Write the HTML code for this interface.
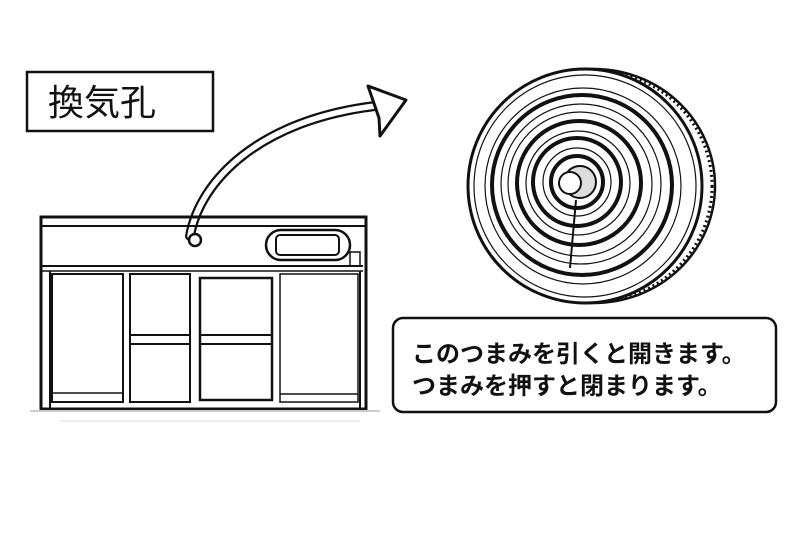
<!DOCTYPE html>
<html><head><meta charset="utf-8"><style>
body{margin:0;background:#fff;width:800px;height:533px;overflow:hidden}
text{font-family:"Liberation Sans","Noto Sans CJK JP",sans-serif;fill:#111}
</style></head><body>
<svg width="800" height="533" viewBox="0 0 800 533" xmlns="http://www.w3.org/2000/svg">
<rect x="27" y="72" width="186" height="59" fill="#fff" stroke="#111" stroke-width="2.5"/>
<text x="48" y="115" font-size="36">換気孔</text>
<path d="M190 236 C200 180 260 120 375 106" fill="none" stroke="#111" stroke-width="10" stroke-linecap="round"/>
<path d="M190 236 C200 180 260 120 375 106" fill="none" stroke="#fff" stroke-width="5.5" stroke-linecap="round"/>
<path d="M368 86 L406 100 L380 136 L379 118 Z" fill="#fff" stroke="#111" stroke-width="3" stroke-linejoin="round"/>
<g fill="none" stroke="#111">
<rect x="41" y="217" width="325" height="192" stroke-width="3"/>
<line x1="41" y1="226" x2="366" y2="226" stroke-width="2"/>
<line x1="41" y1="266" x2="363" y2="266" stroke-width="2"/>
<line x1="41" y1="271" x2="363" y2="271" stroke-width="1.5"/>
<line x1="50" y1="271" x2="50" y2="409" stroke-width="2"/>
<line x1="360" y1="271" x2="360" y2="409" stroke-width="2"/>
<circle cx="195" cy="240" r="6" stroke-width="2.5" fill="#fff"/>
<rect x="266" y="230" width="84" height="30" rx="15" stroke-width="2.5"/>
<rect x="276" y="235" width="63" height="20" rx="4" stroke-width="2"/>
<rect x="350" y="252" width="10" height="14" stroke-width="1.5"/>
<rect x="52" y="274" width="71" height="128" stroke-width="2"/>
<rect x="130" y="274" width="60" height="128" stroke-width="2"/>
<rect x="200" y="278" width="72" height="122" stroke-width="2.5"/>
<rect x="280" y="274" width="78" height="128" stroke-width="1.5"/>
<line x1="130" y1="335" x2="190" y2="335" stroke-width="2"/><line x1="130" y1="344" x2="190" y2="344" stroke-width="2"/>
<line x1="200" y1="335" x2="272" y2="335" stroke-width="2"/><line x1="200" y1="344" x2="272" y2="344" stroke-width="2"/>
<line x1="52" y1="393" x2="123" y2="393" stroke-width="1.5"/>
<line x1="280" y1="394" x2="358" y2="394" stroke-width="1.5"/>
</g>
<line x1="30" y1="411" x2="380" y2="411" stroke="#ccc" stroke-width="2"/>
<line x1="60" y1="421" x2="360" y2="421" stroke="#ddd" stroke-width="1"/>
<g fill="none" stroke="#111">
<ellipse cx="592" cy="186" rx="120" ry="116" stroke-width="3" stroke-dasharray="2 3"/>
<ellipse cx="594" cy="186" rx="121" ry="117" stroke-width="2.5"/>
<circle cx="585" cy="186" r="117" fill="#fff" stroke-width="3"/>
<circle cx="585" cy="186" r="111" stroke-width="1.2"/>
<circle cx="583" cy="186" r="98" stroke-width="1.2"/>
<circle cx="582" cy="185" r="90" stroke-width="4"/>
<circle cx="581" cy="184" r="80" stroke-width="1.2"/>
<circle cx="580" cy="184" r="72" stroke-width="1.2"/>
<circle cx="579" cy="183" r="62" stroke-width="4"/>
<circle cx="578" cy="183" r="52" stroke-width="1.2"/>
<circle cx="577" cy="182" r="44" stroke-width="4"/>
<circle cx="577" cy="182" r="34" stroke-width="1.2"/>
<circle cx="577" cy="182" r="26" stroke-width="4"/>
<circle cx="580" cy="182" r="16" stroke-width="2" fill="#ddd"/>
<circle cx="570" cy="183" r="11" stroke-width="2" fill="#fff"/>
<line x1="576" y1="200" x2="570" y2="268" stroke-width="2"/>
</g>
<rect x="393" y="318" width="383" height="94" rx="10" fill="#fff" stroke="#111" stroke-width="2.5"/>
<text x="412" y="362" font-size="24" font-weight="bold">このつまみを引くと開きます。</text>
<text x="412" y="394" font-size="24" font-weight="bold">つまみを押すと閉まります。</text>
</svg>
</body></html>
